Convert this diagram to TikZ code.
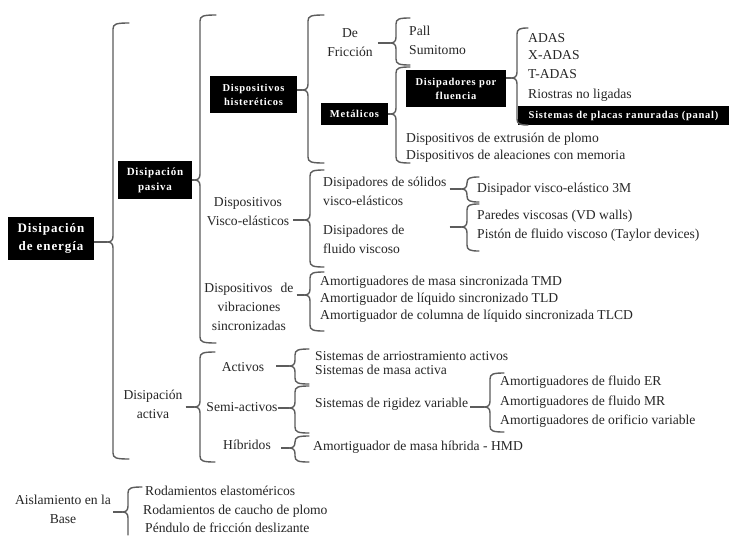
\documentclass[tikz,border=0pt]{standalone}
\usepackage{fontspec}
\setmainfont{Liberation Serif}
\newfontfamily\boxfont[LetterSpace=7]{Liberation Serif}
\definecolor{brgray}{HTML}{5C5C5C}
\definecolor{ink}{HTML}{262626}
% curly bracket: x, top, tip, bottom, hook length
\newcommand\drawbrace[5]{%
  \draw[brc] (#1+#5,#2) .. controls (#1+3,#2) and (#1,#2+1) .. (#1,#2+6)
    -- (#1,#3-6) .. controls (#1,#3-1.5) and (#1-2,#3) .. (#1-6,#3)
    .. controls (#1-2,#3) and (#1,#3+1.5) .. (#1,#3+6)
    -- (#1,#4-6) .. controls (#1,#4-1) and (#1+3,#4) .. (#1+#5,#4);}
\begin{document}
\begin{tikzpicture}[x=1pt,y=-1pt,
  every node/.style={inner sep=0pt},
  brc/.style={draw=brgray, line width=1.4pt, line cap=round, line join=round},
  lnk/.style={draw=brgray, line width=1.4pt},
  lbl/.style={text=ink, font=\fontsize{13.6}{17}\selectfont, anchor=mid west},
  ctr/.style={text=ink, font=\fontsize{13.6}{19}\selectfont, align=center},
  blk/.style={fill=black, text=white, align=center,
    font=\boxfont\bfseries\fontsize{10.5}{14}\selectfont},
]
\useasboundingbox (0,0) rectangle (730,535);
\fill[white] (0,0) rectangle (730,535);

% black boxes
\node[blk, minimum width=86pt, minimum height=43pt,
  font=\boxfont\bfseries\fontsize{13}{18}\selectfont] (energia) at (51,238.5) {Disipación\\de energía};
\node[blk, minimum width=74pt, minimum height=38pt,
  font=\boxfont\bfseries\fontsize{11}{15}\selectfont] (pasiva) at (155,180) {Disipación\\pasiva};
\node[blk, minimum width=87pt, minimum height=37pt] (hist) at (253.5,94.5) {Dispositivos\\histeréticos};
\node[blk, minimum width=67pt, minimum height=22pt] (metal) at (354.5,114) {Metálicos};
\node[blk, minimum width=100pt, minimum height=37pt] (fluen) at (456,88.5) {Disipadores por\\fluencia};
\node[blk, minimum width=211pt, minimum height=19pt] (panal) at (623.5,115.5) {Sistemas de placas ranuradas (panal)};

% grouping labels
\node[ctr] (fric) at (350,42.5) {De\\Fricción};
\node[ctr] (visco) at (248,212) {Dispositivos\\Visco-elásticos};
\node[ctr] (vibr) at (249,307) {Dispositivos\hspace{0.6em}de\\vibraciones\\sincronizadas};
\node[ctr] (activa) at (153,404) {Disipación\\activa};
\node[ctr] (activos) at (243,367) {Activos};
\node[ctr] (semi) at (242,407) {Semi-activos};
\node[ctr] (hibr) at (247,445) {Híbridos};
\node[ctr] (aisl) at (63,509) {Aislamiento en la\\Base};
\node[ctr, align=left, anchor=west] (solid) at (323,191.5) {Disipadores de sólidos\\visco-elásticos};
\node[ctr, align=left, anchor=west] (fluido) at (323,239.5) {Disipadores de\\fluido viscoso};
\node[lbl] (rigidez) at (315,405) {Sistemas de rigidez variable};

% leaves
\node[lbl] (pall) at (409,33) {Pall};
\node[lbl] (sumi) at (409,52) {Sumitomo};
\node[lbl] (adas) at (528,40) {ADAS};
\node[lbl] (xadas) at (528,57) {X-ADAS};
\node[lbl] (tadas) at (528,76) {T-ADAS};
\node[lbl] (riost) at (528,96) {Riostras no ligadas};
\node[lbl] (extr) at (406,140) {Dispositivos de extrusión de plomo};
\node[lbl] (alea) at (406,157) {Dispositivos de aleaciones con memoria};
\node[lbl] (tresm) at (477,190) {Disipador visco-elástico 3M};
\node[lbl] (vdw) at (477,217) {Paredes viscosas (VD walls)};
\node[lbl] (taylor) at (477,236) {Pistón de fluido viscoso (Taylor devices)};
\node[lbl] (tmd) at (320,283) {Amortiguadores de masa sincronizada TMD};
\node[lbl] (tld) at (320,300) {Amortiguador de líquido sincronizado TLD};
\node[lbl] (tlcd) at (320,317) {Amortiguador de columna de líquido sincronizada TLCD};
\node[lbl] (arrio) at (315,358) {Sistemas de arriostramiento activos};
\node[lbl] (masa) at (315,372) {Sistemas de masa activa};
\node[lbl] (er) at (500,383) {Amortiguadores de fluido ER};
\node[lbl] (mr) at (500,403) {Amortiguadores de fluido MR};
\node[lbl] (orif) at (500,422) {Amortiguadores de orificio variable};
\node[lbl] (hmd) at (313,448) {Amortiguador de masa híbrida - HMD};
\node[lbl] (elast) at (145,493) {Rodamientos elastoméricos};
\node[lbl] (cauch) at (143,512) {Rodamientos de caucho de plomo};
\node[lbl] (pend) at (145,530) {Péndulo de fricción deslizante};

% bracket tips and the stems that reach them
\coordinate (t1) at (107,242);  \draw[lnk] (energia.east |- t1) -- (t1);
\coordinate (t2) at (194,180);  \draw[lnk] (pasiva.east |- t2) -- (t2);
\coordinate (t3) at (194,407);  \draw[lnk] ([xshift=3pt]activa.east |- t3) -- (t3);
\coordinate (t4) at (302,90);   \draw[lnk] (hist.east |- t4) -- (t4);
\coordinate (t5) at (304,220);  \draw[lnk] ([xshift=4pt]visco.east |- t5) -- (t5);
\coordinate (t6) at (304,295);  \draw[lnk] ([xshift=3pt]vibr.east |- t6) -- (t6);
\coordinate (t7) at (390,43);   \draw[lnk] ([xshift=5pt]fric.east |- t7) -- (t7);
\coordinate (t8) at (390,114);  \draw[lnk] (metal.east |- t8) -- (t8);
\coordinate (t9) at (511,78);   \draw[lnk] (fluen.east |- t9) -- (t9);
\coordinate (t10) at (461,189); \draw[lnk] ([xshift=3pt]solid.east |- t10) -- (t10);
\coordinate (t11) at (461,227); \draw[lnk] ([xshift=3pt]solid.east |- t11) -- (t11);
\coordinate (t12) at (289,366); \draw[lnk] ([xshift=12pt]activos.east |- t12) -- (t12);
\coordinate (t13) at (289,408); \draw[lnk] (semi.east |- t13) -- (t13);
\coordinate (t14) at (289,448); \draw[lnk] ([xshift=10pt]hibr.east |- t14) -- (t14);
\coordinate (t15) at (484,407); \draw[lnk] ([xshift=2pt]rigidez.east |- t15) -- (t15);
\coordinate (t16) at (122,512); \draw[lnk] ([xshift=2pt]aisl.east |- t16) -- (t16);

% brackets
\drawbrace{113}{23}{242}{459}{16}
\drawbrace{200}{15}{180}{343}{16}
\drawbrace{200}{352}{407}{462}{15}
\drawbrace{308}{15}{90}{163}{16}
\drawbrace{310}{170}{220}{267}{14}
\drawbrace{310}{272}{295}{331}{14}
\drawbrace{396}{18}{43}{65}{14}
\drawbrace{396}{67}{114}{163}{14}
\drawbrace{517}{28}{78}{125}{11}
\drawbrace{467}{177}{189}{202}{12}
\drawbrace{467}{204}{227}{251}{12}
\drawbrace{295}{349}{366}{384}{14}
\drawbrace{295}{386}{408}{433}{14}
\drawbrace{295}{436}{448}{462}{14}
\drawbrace{490}{373}{407}{432}{14}
% the base-isolation bracket runs off the lower edge
\draw[brc] (128+14,487) .. controls (128+3,487) and (128,488) .. (128,493)
  -- (128,506) .. controls (128,510.5) and (126,512) .. (122,512)
  .. controls (126,512) and (128,513.5) .. (128,518) -- (128,535);
\end{tikzpicture}
\end{document}
